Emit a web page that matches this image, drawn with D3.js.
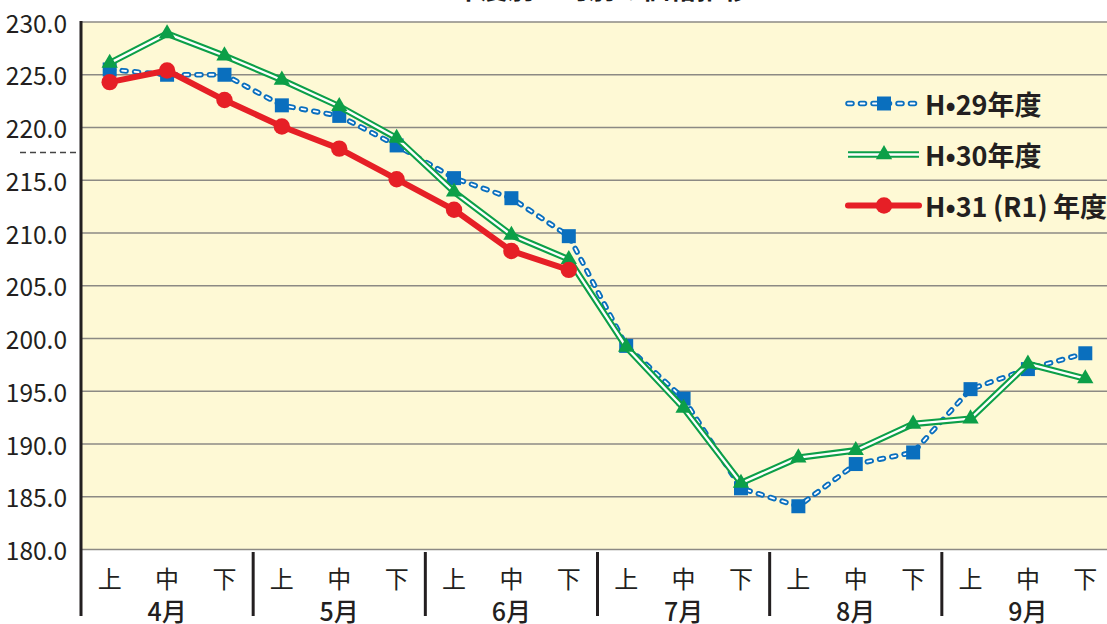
<!DOCTYPE html>
<html><head><meta charset="utf-8">
<script src="https://cdn.jsdelivr.net/npm/d3@7"></script>
<style>
html,body{margin:0;padding:0;background:#fff;overflow:hidden}
svg{display:block;font-family:"Noto Sans CJK JP","Noto Sans",sans-serif}
</style></head><body>
<svg id="chart" width="1107" height="624"></svg>
<script>
// Ten-day periods (上・中・下旬) for April to September
const months = ["4月", "5月", "6月", "7月", "8月", "9月"];
const periods = ["上", "中", "下"];
const yTicks = [180, 185, 190, 195, 200, 205, 210, 215, 220, 225, 230];
const seriesNames = ["H•29年度", "H•30年度", "H•31\u2009(R1)\u2009年度"];
const titleText = "年度別　旬別の価格推移";

const h29 = [225.5, 225.0, 225.0, 222.1, 221.1, 218.3, 215.2, 213.3, 209.7,
             199.3, 194.3, 185.8, 184.1, 188.1, 189.2, 195.2, 197.1, 198.6];
const h30 = [226.1, 228.9, 226.8, 224.5, 222.0, 219.0, 213.9, 209.8, 207.5,
             199.2, 193.4, 186.3, 188.7, 189.4, 191.9, 192.4, 197.6, 196.2];
const h31 = [224.3, 225.4, 222.6, 220.1, 218.0, 215.1, 212.2, 208.3, 206.5];

const svg = d3.select("#chart");
const W = 1107;
const plot = { left: 81, right: 1114, top: 22, bottom: 549.5 };

const keys = months.flatMap(m => periods.map(p => m + p));
const x = d3.scaleBand().domain(keys).range([plot.left, plot.right]).paddingInner(0).paddingOuter(0);
const cx = i => x(keys[i]) + x.bandwidth() / 2;
const y = d3.scaleLinear().domain([180, 230]).range([plot.bottom, plot.top]);

const BLUE = "#0a6fbe", GREEN = "#0c9f48", RED = "#e61f26";

// Title (sits above the top edge)
svg.append("text").attr("x", 602).attr("y", -1.5).attr("text-anchor", "middle")
  .attr("font-size", 27).attr("font-weight", 700).attr("fill", "#1a1a1a").text(titleText);

// Plot background
svg.append("rect").attr("x", plot.left).attr("y", plot.top)
  .attr("width", W - plot.left).attr("height", plot.bottom - plot.top).attr("fill", "#fef9d5");

// Horizontal gridlines
svg.append("g").selectAll("line").data(yTicks).join("line")
  .attr("x1", plot.left).attr("x2", W)
  .attr("y1", d => y(d)).attr("y2", d => y(d))
  .attr("stroke", "#8c8a84").attr("stroke-width", 1.6);

// Y tick labels
svg.append("g").selectAll("text").data(yTicks).join("text")
  .attr("x", 67).attr("y", d => y(d)).attr("text-anchor", "end")
  .attr("dominant-baseline", "central").attr("font-size", 24.5).attr("font-weight", 400)
  .attr("fill", "#231f20").text(d => d.toFixed(1));

// Short dashed mark at the left edge
svg.append("line").attr("x1", 20).attr("x2", 80).attr("y1", 152.5).attr("y2", 152.5)
  .attr("stroke", "#444").attr("stroke-width", 1.3).attr("stroke-dasharray", "6 4");

// Left axis line and month separators
svg.append("line").attr("x1", plot.left).attr("x2", plot.left).attr("y1", plot.top - 1).attr("y2", 616)
  .attr("stroke", "#231f20").attr("stroke-width", 3);
svg.append("g").selectAll("line").data(months.slice(1)).join("line")
  .attr("x1", m => x(m + "上")).attr("x2", m => x(m + "上"))
  .attr("y1", 552).attr("y2", 616)
  .attr("stroke", "#231f20").attr("stroke-width", 3);

// Period labels and month labels
svg.append("g").selectAll("text").data(keys).join("text")
  .attr("x", (k, i) => cx(i)).attr("y", 577).attr("text-anchor", "middle")
  .attr("dominant-baseline", "central").attr("font-size", 24).attr("fill", "#231f20")
  .text(k => k.slice(-1));
svg.append("g").selectAll("text").data(months).join("text")
  .attr("x", m => x(m + "中") + x.bandwidth() / 2).attr("y", 610).attr("text-anchor", "middle")
  .attr("dominant-baseline", "central").attr("font-size", 25).attr("font-weight", 500).attr("fill", "#231f20")
  .text(m => m);

const line = d3.line().x(d => d[0]).y(d => d[1]);
const pts = vals => vals.map((v, i) => [cx(i), y(v)]);

// Hollow dashed blue line
function blueLine(g, p) {
  g.append("path").attr("d", line(p)).attr("fill", "none").attr("stroke", BLUE)
    .attr("stroke-width", 5.5).attr("stroke-linecap", "round").attr("stroke-dasharray", "4 8.5");
  g.append("path").attr("d", line(p)).attr("fill", "none").attr("stroke", "#fff")
    .attr("stroke-width", 1.8).attr("stroke-linecap", "round").attr("stroke-dasharray", "4 8.5");
}
// Double green line
function greenLine(g, p) {
  g.append("path").attr("d", line(p)).attr("fill", "none").attr("stroke", GREEN)
    .attr("stroke-width", 6.5).attr("stroke-linejoin", "miter");
  g.append("path").attr("d", line(p)).attr("fill", "none").attr("stroke", "#fff")
    .attr("stroke-width", 2.3).attr("stroke-linejoin", "miter");
}
function redLine(g, p) {
  g.append("path").attr("d", line(p)).attr("fill", "none").attr("stroke", RED)
    .attr("stroke-width", 6).attr("stroke-linejoin", "round").attr("stroke-linecap", "round");
}
const sq = d3.symbol(d3.symbolSquare, 196)();
const tri = d3.symbol(d3.symbolTriangle, 115)();
function markers(g, p, path, color) {
  g.append("g").selectAll("path").data(p).join("path")
    .attr("transform", d => `translate(${d[0]},${d[1]})`).attr("d", path).attr("fill", color);
}

const s29 = svg.append("g");
blueLine(s29, pts(h29));
markers(s29, pts(h29), sq, BLUE);

const s30 = svg.append("g");
greenLine(s30, pts(h30));
markers(s30, pts(h30), tri, GREEN);

const s31 = svg.append("g");
redLine(s31, pts(h31));
s31.append("g").selectAll("circle").data(pts(h31)).join("circle")
  .attr("cx", d => d[0]).attr("cy", d => d[1]).attr("r", 8.2).attr("fill", RED);

// Legend
const legY = [103.5, 154.5, 205.5];
const lx0 = 848, lx1 = 919, lxm = 884;
const lg = svg.append("g");
blueLine(lg, [[lx0, legY[0]], [lx1, legY[0]]]);
markers(lg, [[lxm, legY[0]]], sq, BLUE);
greenLine(lg, [[lx0, legY[1]], [lx1, legY[1]]]);
markers(lg, [[lxm, legY[1]]], tri, GREEN);
redLine(lg, [[lx0, legY[2]], [lx1, legY[2]]]);
lg.append("circle").attr("cx", lxm).attr("cy", legY[2]).attr("r", 8.2).attr("fill", RED);
lg.selectAll("text").data(seriesNames).join("text")
  .attr("x", 925).attr("y", (d, i) => legY[i]).attr("dominant-baseline", "central")
  .attr("font-size", 27).attr("font-weight", 700).attr("fill", "#231f20").text(d => d);
</script>
</body></html>
